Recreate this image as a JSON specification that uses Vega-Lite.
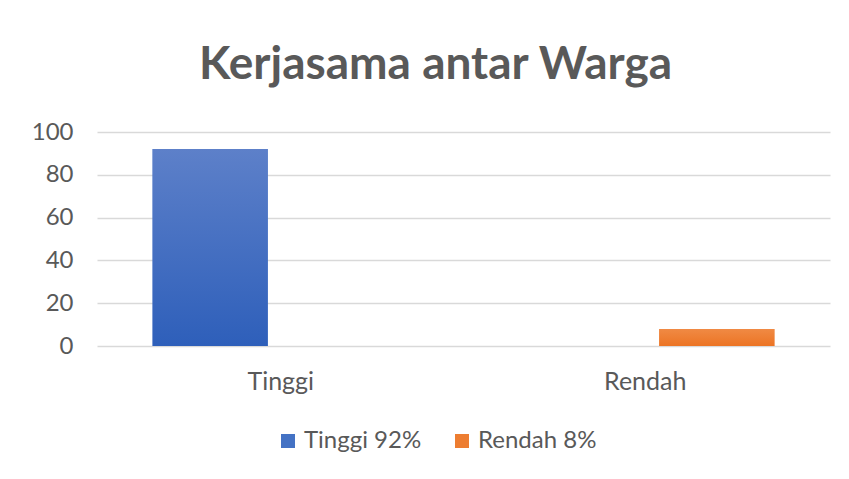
{
  "$schema": "https://vega.github.io/schema/vega-lite/v6.json",
  "autosize": {"type": "none"},
  "width": 733,
  "height": 214,
  "padding": {"left": 97, "top": 132, "right": 19, "bottom": 133},
  "background": "white",
  "config": {"view": {"stroke": null}, "font": "Lato"},
  "title": {
    "text": "Kerjasama antar Warga",
    "fontSize": 46,
    "fontWeight": "bold",
    "color": "#595959",
    "font": "Lato",
    "anchor": "middle",
    "dx": -28,
    "baseline": "alphabetic",
    "offset": -5
  },
  "data": {
    "values": [
      {"kategori": "Tinggi", "seri": "Tinggi 92%", "nilai": 92},
      {"kategori": "Rendah", "seri": "Rendah 8%", "nilai": 8}
    ]
  },
  "encoding": {
    "x": {
      "field": "kategori",
      "type": "nominal",
      "sort": ["Tinggi", "Rendah"],
      "scale": {"paddingInner": 0.1278, "paddingOuter": 0},
      "axis": {
        "title": null,
        "labelAngle": 0,
        "domain": false,
        "ticks": false,
        "labelFontSize": 25,
        "labelColor": "#595959",
        "labelFont": "Lato",
        "labelPadding": 23,
        "labelOffset": {"condition": {"test": "datum.value === 'Tinggi'", "value": 13}, "value": -14}
      }
    },
    "xOffset": {
      "field": "seri",
      "type": "nominal",
      "sort": ["Tinggi 92%", "Rendah 8%"],
      "scale": {"paddingInner": 0, "paddingOuter": 0.483}
    },
    "y": {
      "field": "nilai",
      "type": "quantitative",
      "scale": {"domain": [0, 100], "nice": false},
      "axis": {
        "title": null,
        "values": [0, 20, 40, 60, 80, 100],
        "domain": false,
        "ticks": false,
        "gridColor": "#d9d9d9",
        "gridWidth": 1.3,
        "labelFontSize": 24,
        "labelColor": "#595959",
        "labelFont": "Lato",
        "labelPadding": 24
      }
    }
  },
  "layer": [
    {
      "mark": {"type": "bar"},
      "encoding": {
        "color": {
          "field": "seri",
          "type": "nominal",
          "sort": ["Tinggi 92%", "Rendah 8%"],
          "scale": {"range": ["#4472c4", "#ed7d31"]},
          "legend": {
            "title": null,
            "orient": "none",
            "direction": "horizontal",
            "legendX": 179,
            "legendY": 297,
            "symbolType": "square",
            "symbolSize": 196,
            "symbolStrokeWidth": 0,
            "labelFontSize": 24,
            "labelColor": "#595959",
            "labelFont": "Lato",
            "labelOffset": 4,
            "columnPadding": 28
          }
        }
      }
    },
    {
      "transform": [{"filter": "datum.seri === 'Tinggi 92%'"}],
      "mark": {
        "type": "bar",
        "fill": {
          "gradient": "linear", "x1": 0, "y1": 0, "x2": 0, "y2": 1,
          "stops": [{"offset": 0, "color": "#5d80c9"}, {"offset": 1, "color": "#2e5fba"}]
        }
      }
    },
    {
      "transform": [{"filter": "datum.seri === 'Rendah 8%'"}],
      "mark": {
        "type": "bar",
        "fill": {
          "gradient": "linear", "x1": 0, "y1": 0, "x2": 0, "y2": 1,
          "stops": [{"offset": 0, "color": "#f08a44"}, {"offset": 1, "color": "#ec7424"}]
        }
      }
    }
  ]
}
